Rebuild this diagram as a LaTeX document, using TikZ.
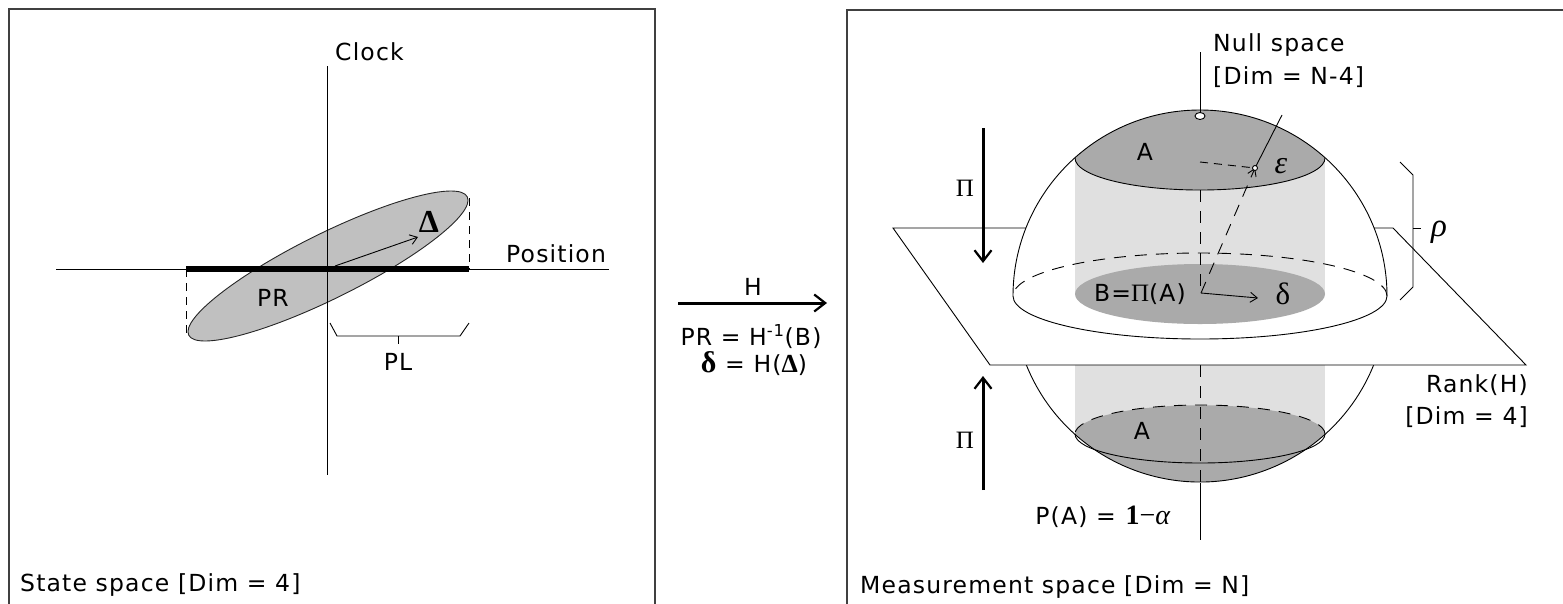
\documentclass[tikz,border=0pt]{standalone}
\usepackage[no-math]{fontspec}
\setmainfont[LetterSpace=5]{DejaVu Sans}
\newfontfamily\grk{Liberation Serif}
\usepackage{tikz}
\usetikzlibrary{arrows.meta}
\usepackage{xcolor}

\definecolor{ellgray}{RGB}{192,192,192}
\definecolor{capgray}{RGB}{170,170,170}
\definecolor{cylgray}{RGB}{224,224,224}
\definecolor{panelgray}{RGB}{64,64,64}

\begin{document}
\begin{tikzpicture}[
  x=1pt, y=-1pt, font=\fontsize{23.5}{27}\selectfont,
  panel/.style={draw=panelgray,line width=2pt},
  thinline/.style={line width=0.9pt},
  bigarrow/.style={line width=3pt,-{Straight Barb[length=11pt,width=17pt,line width=2.2pt]}},
  smallarrow/.style={line width=0.9pt,-{Straight Barb[length=7pt,width=10pt]}},
  longdash/.style={line width=0.9pt,dash pattern=on 12pt off 9pt},
  shortdash/.style={line width=0.9pt,dash pattern=on 8pt off 6pt},
  lbl/.style={inner sep=0pt},
  greek/.style={inner sep=0pt,font=\grk\fontsize{30}{30}\selectfont}
]
\useasboundingbox (0,0) rectangle (1563,603);
\clip (0,0) rectangle (1563,603);
% the two panels
\draw[panel] (9,9) rectangle (655,640);
\draw[panel] (847,10) rectangle (1600,640);

% state space: error ellipse and axes
\filldraw[fill=ellgray,draw=black!85,thinline,rotate around={26.4:(328,266)}]
  (328,266) ellipse[x radius=155.5,y radius=32.4];
\draw[thinline] (327,66) -- (327,475);
\draw[thinline] (56,269) -- (609,269);
\draw[line width=6.5pt] (186,269) -- (469,269);
\draw[shortdash] (186,269) -- (186,334);
\draw[shortdash] (469,198) -- (469,269);
\coordinate (dStart) at (335,266);
\coordinate (dEnd) at (418,237);
\draw[smallarrow] (dStart) -- (dEnd);
% PL bracket
\draw[thinline] (330,323) -- (337,336) -- (460,336) -- (469,323);
\draw[thinline] (398,336) -- (398,344);
\node[lbl,anchor=west] (clock) at (335,52) {Clock};
\node[lbl,anchor=west] (position) at (506,254) {Position};
\node[lbl] (pr) at (273,298) {PR};
\node[greek,font=\grk\bfseries\fontsize{32}{32}\selectfont] (bigDelta) at (429,222) {Δ};
\node[lbl] (pl) at (398,362) {PL};
\node[lbl,anchor=west] (statespace) at (20,585) {State space [Dim = 4]};

% the map H
\coordinate (hL) at (678,303);
\coordinate (hR) at (827,303);
\draw[bigarrow] (hL) -- (hR);
\node[lbl] (hlabel) at (753,287) {H};
\node[lbl] (prdef) at (751,337) {PR = H\textsuperscript{-1}(B)};
\node[lbl] (deltadef) at (754,364) {{\grk\bfseries\fontsize{30}{30}\selectfont δ} = H({\grk\bfseries\fontsize{26}{26}\selectfont Δ})};

% measurement space: lower half of the ball
\fill[cylgray] (1075,365) rectangle (1325,434);
\fill[capgray] (1200,296) ++(132:187 and 186) arc[start angle=132,end angle=48,x radius=187,y radius=186]
  arc[start angle=0,end angle=-180,x radius=125,y radius=29];
\draw[thinline] (1200,296) ++(158.2:187 and 186) arc[start angle=158.2,end angle=21.8,x radius=187,y radius=186];
\draw[thinline] (1325,434) arc[start angle=0,end angle=180,x radius=125,y radius=29];
\draw[longdash] (1325,434) arc[start angle=0,end angle=-180,x radius=125,y radius=29];
\draw[longdash] (1200,365) -- (1200,483);
\draw[thinline] (1200,483) -- (1200,540);
% range plane
\filldraw[fill=white,thinline] (893,228) -- (1393,228) -- (1526,365) -- (990,365) -- cycle;
% upper half of the ball
\fill[white] (1013,296) arc[start angle=180,end angle=360,x radius=187,y radius=186]
  arc[start angle=0,end angle=180,x radius=187,y radius=43] -- cycle;
\fill[cylgray] (1075,158) rectangle (1325,294);
\fill[capgray] (1200,296) ++(228:187 and 186) arc[start angle=228,end angle=312,x radius=187,y radius=186]
  arc[start angle=0,end angle=180,x radius=125,y radius=32];
\fill[capgray] (1200,294) ellipse[x radius=125,y radius=30];
\draw[thinline] (1013,296) arc[start angle=180,end angle=360,x radius=187,y radius=186];
\draw[thinline] (1387,296) arc[start angle=0,end angle=180,x radius=187,y radius=43];
\draw[longdash] (1387,296) arc[start angle=0,end angle=-180,x radius=187,y radius=43];
\draw[thinline] (1325,158) arc[start angle=0,end angle=180,x radius=125,y radius=32];
% null space axis
\draw[thinline] (1200,52) -- (1200,112);
\filldraw[fill=white,thinline] (1200,116) ellipse[x radius=5,y radius=3.5];
\draw[longdash] (1200,190) -- (1200,290);
% epsilon and delta
\coordinate (bCtr) at (1201,293);
\coordinate (epsPt) at (1255,168);
\coordinate (epsTop) at (1282,115);
\coordinate (axisPt) at (1200,162);
\coordinate (dRight) at (1258,298);
\draw[thinline] (epsTop) -- (epsPt);
\draw[shortdash] (axisPt) -- (epsPt);
\draw[longdash,-{Straight Barb[length=7pt,width=9pt]}] (bCtr) -- (epsPt);
\filldraw[fill=white,thinline] (epsPt) circle[radius=2.5];
\draw[smallarrow] (bCtr) -- (dRight);
% projection arrows
\coordinate (piTopA) at (983,128);
\coordinate (piTopB) at (983,263);
\coordinate (piBotA) at (983,490);
\coordinate (piBotB) at (983,376);
\draw[bigarrow] (piTopA) -- (piTopB);
\draw[bigarrow] (piBotA) -- (piBotB);
% rho bracket
\draw[thinline] (1400,162) -- (1413,175) -- (1413,287) -- (1400,300);
\draw[thinline] (1413,228) -- (1421,228);
% labels
\node[lbl,anchor=west] (nullspace) at (1213,45) {Null space};
\node[lbl,anchor=west] (nulldim) at (1213,77) {[Dim = N-4]};
\node[lbl] (capA) at (1145,152) {A};
\node[greek,font=\grk\itshape\fontsize{32}{32}\selectfont] (eps) at (1281,166) {ε};
\node[lbl] (bpi) at (1140,294) {B={\grk\fontsize{25}{25}\selectfont Π}(A)};
\node[greek,font=\grk\fontsize{31}{31}\selectfont] (deltaR) at (1283,294) {δ};
\node[greek,font=\grk\itshape\fontsize{33}{33}\selectfont] (rho) at (1439,232) {ρ};
\node[lbl,font=\grk\fontsize{25}{25}\selectfont] (piTop) at (965,188) {Π};
\node[lbl,font=\grk\fontsize{25}{25}\selectfont] (piBot) at (965,440) {Π};
\node[lbl] (lowA) at (1142,431) {A};
\node[lbl,anchor=east] (rank) at (1528,385) {Rank(H)};
\node[lbl,anchor=east] (rankdim) at (1528,417) {[Dim = 4]};
\node[lbl] (pa) at (1103,517) {P(A) = {\grk\fontsize{28}{28}\selectfont\textbf{1}−\textit{α}}};
\node[lbl,anchor=west] (measspace) at (860,587) {Measurement space [Dim = N]};
\end{tikzpicture}
\end{document}
